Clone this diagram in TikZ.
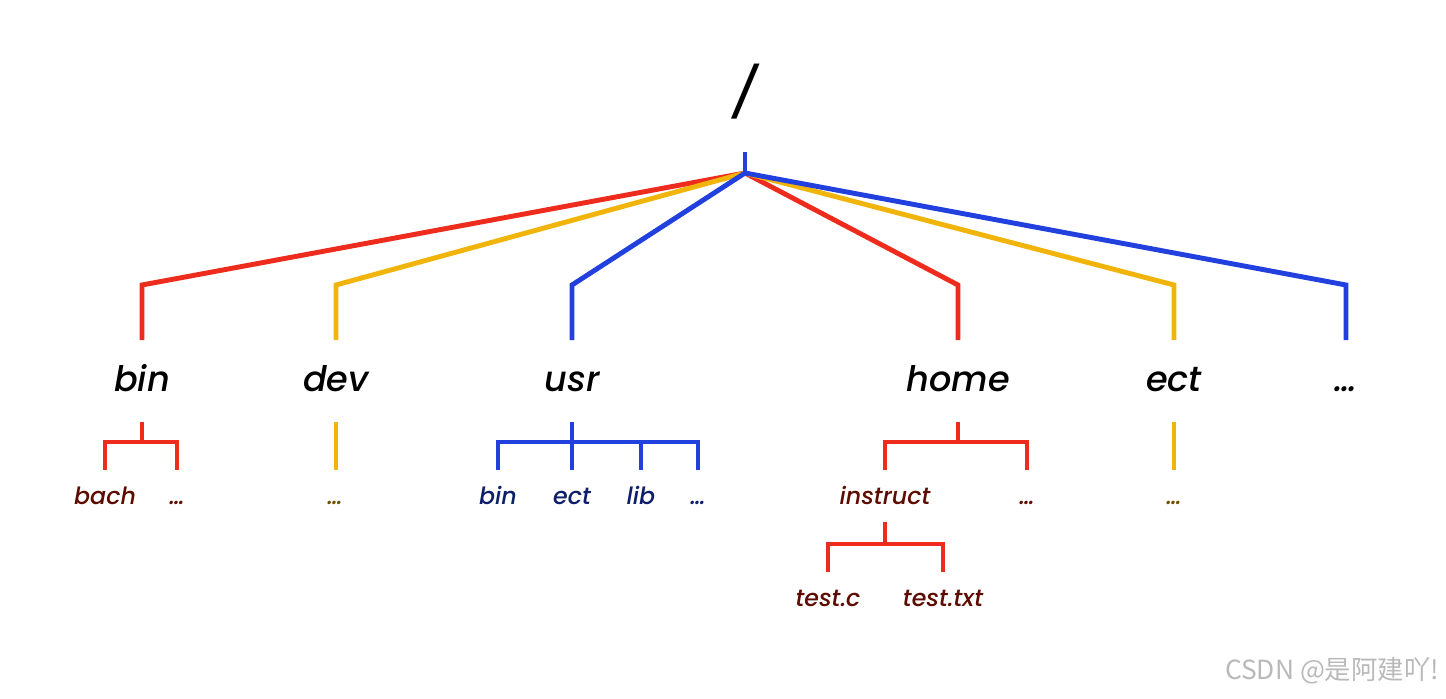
\documentclass[tikz,border=0pt]{standalone}
\usepackage{fontspec}
\setmainfont{Poppins Medium}[ItalicFont={Poppins Medium Italic}]
\newfontfamily\cjk{Noto Sans CJK SC}
\definecolor{rouge}{RGB}{238,44,30}
\definecolor{jaune}{RGB}{240,180,10}
\definecolor{bleu}{RGB}{33,64,222}
\definecolor{brunrouge}{RGB}{92,12,0}
\definecolor{brunjaune}{RGB}{110,78,0}
\definecolor{marine}{RGB}{14,30,104}

\begin{document}
\begin{tikzpicture}[x=0.02cm,y=-0.02cm]
	\tikzstyle{racine}=[font=\fontsize{28}{32}\selectfont\itshape,text=black]
	\tikzstyle{un}=[font=\fontsize{20}{24}\selectfont\itshape,text=black,anchor=base]
	\tikzstyle{deux}=[font=\fontsize{13.5}{16}\selectfont\itshape,anchor=base]
	\tikzstyle{gros}=[line width=2.8pt]
	\tikzstyle{fin}=[line width=2pt]
	\useasboundingbox (0,0) rectangle (1446,699);
	\node[racine] (slash) at (745,92){/};
	\node[un] (bin) at (142,391){bin};
	\node[un] (dev) at (336,391){dev};
	\node[un] (usr) at (572,391){usr};
	\node[un] (home) at (958,391){home};
	\node[un] (ect) at (1174,391){ect};
	\node[un] (etc) at (1346,391){…};
	\node[deux,text=brunrouge] (bach) at (105,504){bach};
	\node[deux,text=brunrouge] (binx) at (177,504){…};
	\node[deux,text=brunjaune] (devx) at (335,504){…};
	\node[deux,text=marine] (ubin) at (498,504){bin};
	\node[deux,text=marine] (uect) at (572,504){ect};
	\node[deux,text=marine] (ulib) at (641,504){lib};
	\node[deux,text=marine] (usrx) at (698,504){…};
	\node[deux,text=brunrouge] (instruct) at (885,504){instruct};
	\node[deux,text=brunrouge] (homex) at (1027,504){…};
	\node[deux,text=brunjaune] (ectx) at (1174,504){…};
	\node[deux,text=brunrouge] (testc) at (828,606){test.c};
	\node[deux,text=brunrouge] (testtxt) at (943,606){test.txt};
	\node[text=gray!55,font=\cjk\fontsize{15}{18}\selectfont] (csdn) at (1332,671){CSDN @是阿建吖!};
	\coordinate (rs) at (745,152);
	\coordinate (rj) at (745,173);
	\coordinate (h1) at (0,285);
	\coordinate (b1) at (0,340);
	\coordinate (s2) at (0,422);
	\coordinate (m2) at (0,442);
	\coordinate (e2) at (0,470);
	\coordinate (s3) at (0,522);
	\coordinate (m3) at (0,544);
	\coordinate (e3) at (0,572);
	\draw[gros,rouge] (rj) -- (bin |- h1) -- (bin |- b1);
	\draw[gros,jaune] (rj) -- (dev |- h1) -- (dev |- b1);
	\draw[gros,rouge] (rj) -- (home |- h1) -- (home |- b1);
	\draw[gros,jaune] (rj) -- (ect |- h1) -- (ect |- b1);
	\draw[gros,bleu] (rj) -- (usr |- h1) -- (usr |- b1);
	\draw[gros,bleu] (rj) -- (etc |- h1) -- (etc |- b1);
	\draw[gros,bleu] (rs) -- (rj);
	\draw[fin,rouge] (bin |- s2) -- (bin |- m2);
	\draw[fin,rouge] (bach |- e2) -- (bach |- m2) -- (binx |- m2) -- (binx |- e2);
	\draw[fin,jaune] (dev |- s2) -- (dev |- e2);
	\draw[fin,bleu] (usr |- s2) -- (uect |- e2);
	\draw[fin,bleu] (ubin |- e2) -- (ubin |- m2) -- (usrx |- m2) -- (usrx |- e2);
	\draw[fin,bleu] (ulib |- m2) -- (ulib |- e2);
	\draw[fin,rouge] (home |- s2) -- (home |- m2);
	\draw[fin,rouge] (instruct |- e2) -- (instruct |- m2) -- (homex |- m2) -- (homex |- e2);
	\draw[fin,jaune] (ect |- s2) -- (ect |- e2);
	\draw[fin,rouge] (instruct |- s3) -- (instruct |- m3);
	\draw[fin,rouge] (testc |- e3) -- (testc |- m3) -- (testtxt |- m3) -- (testtxt |- e3);
\end{tikzpicture}
\end{document}
